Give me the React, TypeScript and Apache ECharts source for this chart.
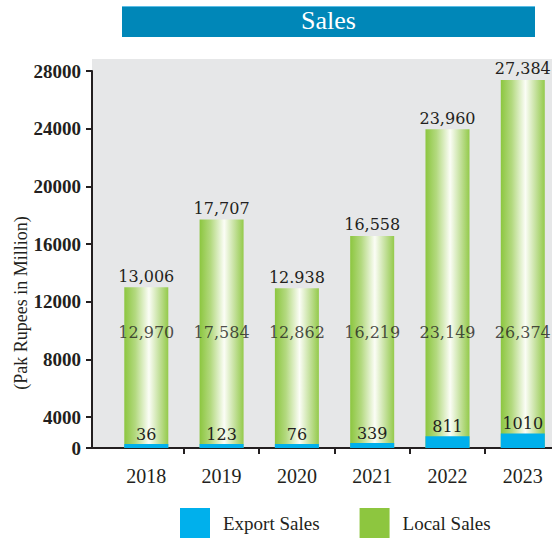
import React, { useEffect, useRef } from 'react';
import * as echarts from 'echarts';

// ---- data ----
const YEARS = ['2018', '2019', '2020', '2021', '2022', '2023'];
const EXPORT_SALES = [36, 123, 76, 339, 811, 1010];
const LOCAL_SALES = [12970, 17584, 12862, 16219, 23149, 26374];
const TOTAL_LABELS = ['13,006', '17,707', '12.938', '16,558', '23,960', '27,384'];
const Y_TICKS = [0, 4000, 8000, 12000, 16000, 20000, 24000, 28000];

// ---- layout / style constants ----
const W = 552;
const H = 541;
const X_MIN = -0.721;
const X_MAX = 5.388;
const MID_LABEL_LEVEL = 9900;
const SERIF = "'Liberation Serif', 'Times New Roman', serif";
const LABEL_SERIF = "'DejaVu Serif', serif";
const INK = '#231f20';

export default function App() {
  const ref = useRef<HTMLDivElement>(null);

  useEffect(() => {
    document.body.style.margin = '0';
    const chart = echarts.init(ref.current!, undefined, { renderer: 'svg' });
    const idx = YEARS.map((_, i) => i);
    const totals = idx.map((i) => EXPORT_SALES[i] + LOCAL_SALES[i]);

    const greenGrad = new echarts.graphic.LinearGradient(0, 0, 1, 0, [
      { offset: 0, color: '#8cc63f' },
      { offset: 0.25, color: '#b3d97f' },
      { offset: 0.56, color: '#fbfdf6' },
      { offset: 0.8, color: '#c3e09a' },
      { offset: 1, color: '#94ca4b' },
    ]);

    const option: any = {
      animation: false,
      grid: { left: 92, right: 0, top: 71, bottom: 93 },
      graphic: [
        { type: 'rect', z: -10, shape: { x: 92, y: 59, width: 460, height: 389 }, style: { fill: '#e6e7e8' } },
        { type: 'rect', z: 1, shape: { x: 122, y: 6, width: 413, height: 31 }, style: { fill: '#0087b8' } },
        { type: 'rect', z: 2, shape: { x: 122, y: 6, width: 413, height: 1 }, style: { fill: '#5bbde6' } },
        {
          type: 'text', z: 3, x: 328.5, y: 20,
          style: { text: 'Sales', fill: '#ffffff', font: `26px ${SERIF}`, textAlign: 'center', textVerticalAlign: 'middle' },
        },
        {
          type: 'text', z: 3, x: 21, y: 303, rotation: Math.PI / 2,
          style: { text: '(Pak Rupees in Million)', fill: INK, font: `18px ${SERIF}`, textAlign: 'center', textVerticalAlign: 'middle' },
        },
      ],
      legend: {
        left: 180,
        top: 508,
        padding: 0,
        itemWidth: 30,
        itemHeight: 30,
        itemGap: 40,
        icon: 'rect',
        textStyle: { fontFamily: SERIF, fontSize: 19, color: INK, padding: [0, 0, 0, 8] },
        data: [
          { name: 'Export Sales', itemStyle: { color: '#00b0ec' } },
          { name: 'Local Sales', itemStyle: { color: '#8dc63f' } },
        ],
      },
      xAxis: {
        type: 'value',
        min: X_MIN,
        max: X_MAX,
        splitLine: { show: false },
        axisLine: { show: true, onZero: false, lineStyle: { color: INK, width: 2 } },
        axisTick: { show: true, length: 6, lineStyle: { color: INK, width: 2 }, customValues: [0.5, 1.5, 2.5, 3.5, 4.5] },
        axisLabel: {
          customValues: idx,
          formatter: (v: number) => YEARS[Math.round(v)] ?? '',
          fontFamily: SERIF,
          fontSize: 20,
          color: INK,
          margin: 18,
        },
      },
      yAxis: {
        type: 'value',
        min: 0,
        max: 28000,
        breaks: [{ start: 1100, end: 2956, gap: 0 }],
        breakArea: { show: false },
        splitLine: { show: false },
        axisLine: { show: true, onZero: false, lineStyle: { color: INK, width: 2 } },
        axisTick: { show: true, length: 6, lineStyle: { color: INK, width: 2 }, customValues: Y_TICKS },
        axisLabel: {
          customValues: Y_TICKS,
          formatter: (v: number) => String(v),
          fontFamily: SERIF,
          fontSize: 19,
          fontWeight: 'bold',
          color: INK,
          margin: 11,
        },
      },
      series: [
        {
          name: 'Local Sales',
          type: 'bar',
          barWidth: 44,
          barGap: '-100%',
          data: idx.map((i) => [i, totals[i]]),
          itemStyle: { color: greenGrad },
          label: {
            show: true,
            position: 'top',
            distance: 3,
            formatter: (p: any) => TOTAL_LABELS[p.dataIndex],
            fontFamily: LABEL_SERIF,
            fontSize: 16,
            color: INK,
          },
        },
        {
          name: 'Export Sales',
          type: 'bar',
          barWidth: 44,
          barGap: '-100%',
          barMinHeight: 4,
          data: idx.map((i) => [i, EXPORT_SALES[i]]),
          itemStyle: { color: '#00b0ec' },
          label: {
            show: true,
            position: 'top',
            distance: 2,
            formatter: (p: any) => String(EXPORT_SALES[p.dataIndex]),
            fontFamily: LABEL_SERIF,
            fontSize: 16,
            color: INK,
          },
        },
        {
          name: 'localValueLabels',
          type: 'scatter',
          symbolSize: 0,
          silent: true,
          z: 5,
          data: idx.map((i) => [i, MID_LABEL_LEVEL, LOCAL_SALES[i]]),
          label: {
            show: true,
            position: 'inside',
            formatter: (p: any) => LOCAL_SALES[p.dataIndex].toLocaleString('en-US'),
            fontFamily: LABEL_SERIF,
            fontSize: 16,
            color: INK,
          },
        },
      ],
    };

    chart.setOption(option);
    return () => chart.dispose();
  }, []);

  return <div ref={ref} style={{ position: 'absolute', left: 0, top: 0, width: W, height: H }} />;
}
